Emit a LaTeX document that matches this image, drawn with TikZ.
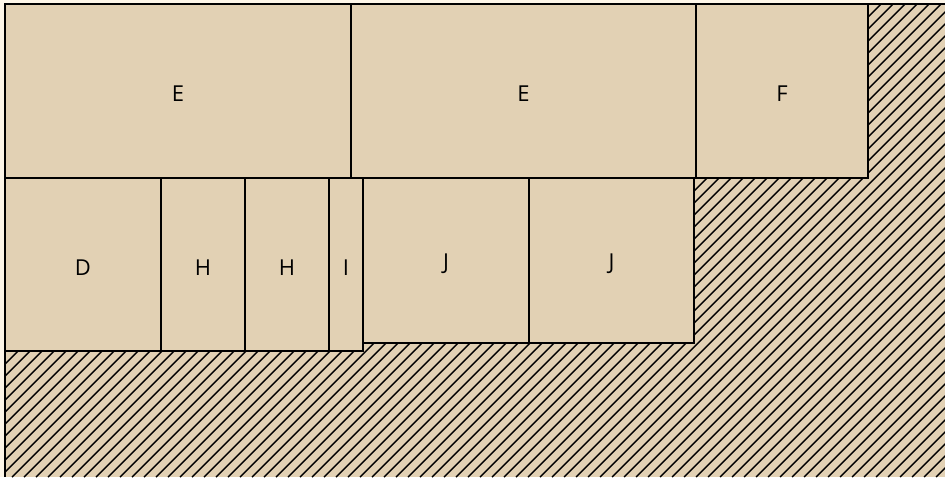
\documentclass[tikz,border=0pt]{standalone}
\usepackage{fontspec}
\setmainfont{Open Sans}
\usetikzlibrary{fit}
\definecolor{crate}{RGB}{226,209,180}
\definecolor{paper}{RGB}{253,246,232}

\begin{document}
\begin{tikzpicture}[
            x=0.02cm, y=-0.02cm,
            hatch/.style={line width=.8pt, draw=black},
            blk/.style={draw=black, fill=crate, line width=.7pt, inner sep=0pt},
            lbl/.style={font=\fontsize{12.5}{14}\selectfont, yshift=-0.06cm},
        ]
            \useasboundingbox (0,0) rectangle (945,477);
            \fill[paper] (0,0) rectangle (945,477);

            % the free floor space, hatched
            \fill[crate] (5,4) rectangle (945,477);
            \begin{scope}
                \clip (5,4) rectangle (945,477);
                \foreach \x in {-480,-468,...,945}{
                    \draw[hatch] (\x,477) -- (\x+473,4);
                }
            \end{scope}
            \draw[line width=.7pt] (5,477) -- (5,4) -- (945,4);

            % the packed blocks: name / corners / label
            \foreach \n/\xa/\ya/\xb/\yb/\t in {
                    eone/5/4/351/178/E, etwo/351/4/696/178/E, f/696/4/868/178/F,
                    d/5/178/161/351/D, hone/161/178/245/351/H, htwo/245/178/329/351/H,
                    i/329/178/363/351/I, jone/363/178/529/343/J, jtwo/529/178/694/343/J}{
                \node[blk, fit={(\xa,\ya) (\xb,\yb)}] (\n) {};
                \node[lbl] (\n-t) at (\n.center) {\t};
            }
        \end{tikzpicture}
\end{document}
